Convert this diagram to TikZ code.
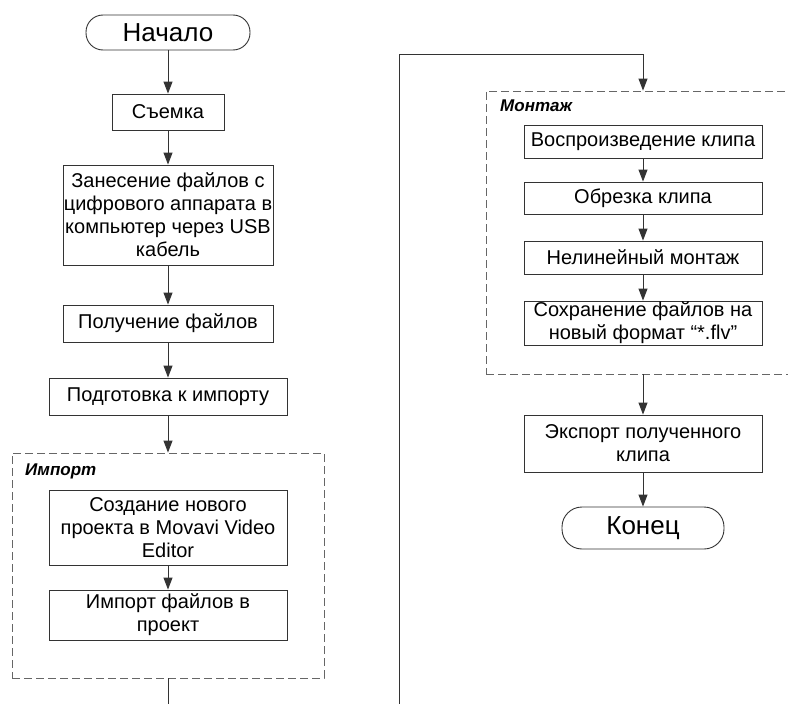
\documentclass[tikz,border=0pt]{standalone}
\usepackage{fontspec}
\setmainfont{Liberation Sans}
\usetikzlibrary{arrows.meta}
\tikzset{
  box/.style     = {rectangle, draw=black!80, fill=white, line width=0.9pt,
                    align=center, inner sep=0pt, font=\fontsize{20}{23}\selectfont},
  term/.style    = {rectangle, rounded corners=17pt, draw=black!80, fill=white,
                    line width=0.9pt, inner sep=0pt, font=\fontsize{26}{28}\selectfont},
  group/.style   = {rectangle, draw=black!60, dash pattern=on 8pt off 4pt,
                    line width=0.9pt, inner sep=0pt},
  caption/.style = {anchor=north west, inner sep=0pt,
                    font=\fontsize{17}{20}\selectfont\bfseries\itshape},
  flow/.style    = {-{Triangle[length=12pt,width=9pt]}, draw=black!80, line width=0.9pt},
  link/.style    = {draw=black!80, line width=0.9pt},
}

\begin{document}
\begin{tikzpicture}[x=1pt,y=-1pt]
  \useasboundingbox (0,0) rectangle (788,704);
  \clip (0,0) rectangle (788,704);

  \node[term, minimum width=164pt, minimum height=35pt] (start)   at (168,32.5)  {Начало};
  \node[box,  minimum width=112pt, minimum height=36pt] (shoot)   at (168,112)   {Съемка};
  \node[box,  minimum width=210pt, minimum height=100pt] (copy)   at (168,215)   {Занесение файлов с\\цифрового аппарата в\\компьютер через USB\\кабель};
  \node[box,  minimum width=210pt, minimum height=37pt] (receive) at (168,323.5) {Получение файлов};
  \node[box,  minimum width=238pt, minimum height=37pt] (prep)    at (168,396.5) {Подготовка к импорту};

  \node[group, minimum width=312pt, minimum height=225pt] (import) at (168,565.5) {};
  \node[caption] (importlbl) at (25,464) {Импорт};
  \node[box, minimum width=238pt, minimum height=75pt] (create) at (168,527.5) {Создание нового\\проекта в Movavi Video\\Editor};
  \node[box, minimum width=238pt, minimum height=50pt] (files)  at (168,615)   {Импорт файлов в\\проект};
  \coordinate (leftend)  at (168,704);

  \coordinate (rightend) at (399,704);
  \coordinate (bend)     at (643,54);
  \node[group, minimum width=314pt, minimum height=283pt] (montage) at (643,232.5) {};
  \node[caption] (montagelbl) at (500,100) {Монтаж};
  \node[box, minimum width=238pt, minimum height=33pt] (play)   at (643,141.5) {Воспроизведение клипа};
  \node[box, minimum width=238pt, minimum height=32pt] (cut)    at (643,198)   {Обрезка клипа};
  \node[box, minimum width=238pt, minimum height=33pt] (nonlin) at (643,257.5) {Нелинейный монтаж};
  \node[box, minimum width=238pt, minimum height=44pt] (save)   at (643,323)   {Сохранение файлов на\\новый формат “*.flv”};
  \node[box, minimum width=238pt, minimum height=57pt] (export) at (643,443.5) {Экспорт полученного\\клипа};
  \node[term, rounded corners=20pt, minimum width=162pt, minimum height=42pt] (finish) at (643,528) {Конец};

  \draw[flow] (start) -- (shoot);
  \draw[flow] (shoot) -- (copy);
  \draw[flow] (copy) -- (receive);
  \draw[flow] (receive) -- (prep);
  \draw[flow] (prep) -- (import);
  \draw[flow] (create) -- (files);
  \draw[link] (import) -- (leftend);

  \draw[flow] (rightend) |- (bend) -- (montage);
  \draw[flow] (play) -- (cut);
  \draw[flow] (cut) -- (nonlin);
  \draw[flow] (nonlin) -- (save);
  \draw[flow] (montage) -- (export);
  \draw[flow] (export) -- (finish);
\end{tikzpicture}
\end{document}
